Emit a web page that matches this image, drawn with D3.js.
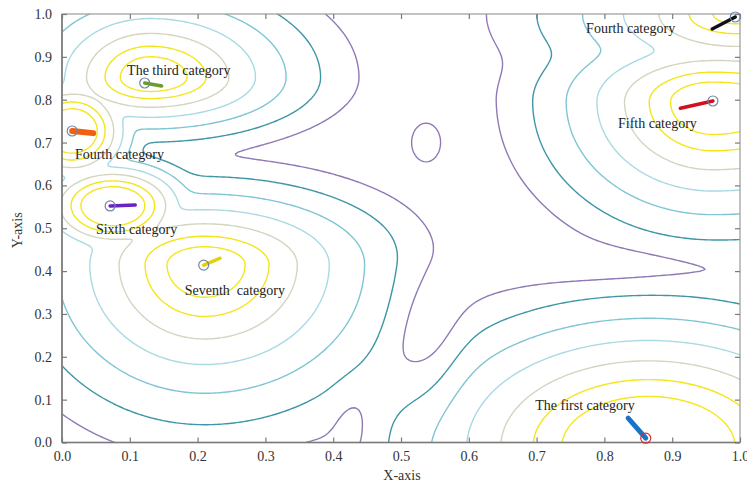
<!DOCTYPE html>
<html><head><meta charset="utf-8">
<script src="https://cdn.jsdelivr.net/npm/d3@7"></script>
<style>body{margin:0;background:#fff} svg{display:block;font-family:"Liberation Serif","DejaVu Serif",serif}</style>
</head><body><svg id="chart" width="747" height="485"></svg>
<script>
// ---- data ----
const categories = ["The first category","Fifth category","Fourth category","The third category","Fourth category","Sixth category","Seventh  category"];
const centerX     = [0.865, 0.96, 0.995, 0.13, 0.015, 0.075, 0.21];
const centerY     = [-0.01, 0.795, 1.0, 0.852, 0.727, 0.553, 0.415];
const amplitude   = [204, 92, 41.5, 130, 245, 245, 73];
const spreadLeft  = [0.0278, 0.0258, 0.0412, 0.0105, 0.00716, 0.0091, 0.029];
const spreadRight = [0.0278, 0.04, 0.0412, 0.013, 0.00716, 0.0091, 0.0316];
const spreadDown  = [0.0256, 0.0314, 0.027, 0.0078, 0.01, 0.0091, 0.04];
const spreadUp    = [0.0256, 0.019, 0.027, 0.0115, 0.01, 0.0085, 0.022];
const shapeExp    = [0.6, 0.6, 0.6, 0.5, 0.6, 0.6, 0.6];
// small local bump in the central valley
const bumpX = [0.537], bumpY = [0.70], bumpAmp = [1.4], bumpSX = [0.026], bumpSY = [0.055];
// narrow valley channels between the clusters
const dipX = [0.538, 0.80, 0.43], dipY = [0.255, 0.41, 0.035];
const dipDepth = [0.45, 0.25, 0.25], dipSX = [0.035, 0.1, 0.02], dipSY = [0.12, 0.03, 0.06];
const levels = [1, 1.6, 2.56, 4.1, 6.55, 10.5, 16.8];
const levelColors = ["#9079b6", "#3e97a6", "#7fc5d3", "#a9dae3", "#d3d5bf", "#f3e51c", "#f5e61e"];
// markers: centre point and trajectory end
const markX = [0.861, 0.96, 0.993, 0.122, 0.015, 0.071, 0.209];
const markY = [0.010, 0.797, 0.993, 0.839, 0.727, 0.552, 0.414];
const trailX = [0.835, 0.912, 0.959, 0.147, 0.046, 0.108, 0.233];
const trailY = [0.057, 0.780, 0.965, 0.832, 0.722, 0.554, 0.430];
const trailColors = ["#1a73c6", "#d0101a", "#111111", "#6d9a2c", "#f0600f", "#6a22c0", "#e6d000"];
const markColors = ["#d03030", "#6f86aa", "#6f86aa", "#6f86aa", "#6f86aa", "#6f86aa", "#6f86aa"];
const labelX = [0.698, 0.82, 0.773, 0.096, 0.019, 0.05, 0.181];
const labelY = [0.076, 0.734, 0.956, 0.857, 0.661, 0.487, 0.344];
const xTicks = [0,0.1,0.2,0.3,0.4,0.5,0.6,0.7,0.8,0.9,1.0];
const yTicks = [0,0.1,0.2,0.3,0.4,0.5,0.6,0.7,0.8,0.9,1.0];

// ---- layout ----
const svg = d3.select("#chart");
const L = 62, R = 740, T = 14, B = 442.5;
const x = d3.scaleLinear().domain([0,1]).range([L,R]);
const y = d3.scaleLinear().domain([0,1]).range([B,T]);

// ---- field (soft maximum of the category peaks, minus valley channels) ----
const K = 6;
function field(px, py){
  let s = 0;
  for (let i=0;i<centerX.length;i++){
    const ddx = px-centerX[i], ddy = py-centerY[i];
    const dx = ddx/(ddx<0?spreadLeft[i]:spreadRight[i]);
    const dy = ddy/(ddy<0?spreadDown[i]:spreadUp[i]);
    const r = Math.sqrt(dx*dx+dy*dy);
    const g = Math.log(amplitude[i]) - Math.pow(r, shapeExp[i]);
    s += Math.exp(K*g);
  }
  for (let i=0;i<bumpX.length;i++){
    const dx=(px-bumpX[i])/bumpSX[i], dy=(py-bumpY[i])/bumpSY[i];
    const g = Math.log(bumpAmp[i]) - (dx*dx+dy*dy)/2;
    s += Math.exp(K*g);
  }
  let G = Math.log(s)/K;
  for (let i=0;i<dipX.length;i++){
    const dx=(px-dipX[i])/dipSX[i], dy=(py-dipY[i])/dipSY[i];
    G -= dipDepth[i]*Math.exp(-(dx*dx+dy*dy)/2);
  }
  return Math.exp(G);
}
const n=300, m=260, x0=-0.03, x1=1.03, y0=-0.03, y1=1.03;
const sx=(x1-x0)/(n-1), sy=(y1-y0)/(m-1);
const vals = new Float64Array(n*m);
for (let j=0;j<m;j++) for (let i=0;i<n;i++) vals[j*n+i]=field(x0+i*sx, y0+j*sy);
const contours = d3.contours().size([n,m]).thresholds(levels)(vals);
const proj = d3.geoTransform({point:function(cx,cy){
  this.stream.point(x(x0+(cx-0.5)*sx), y(y0+(cy-0.5)*sy));
}});
const path = d3.geoPath(proj);

svg.append("defs").append("clipPath").attr("id","clip")
  .append("rect").attr("x",L).attr("y",T).attr("width",R-L).attr("height",B-T);

svg.append("g").attr("clip-path","url(#clip)")
  .selectAll("path").data(contours).join("path")
  .attr("d", path).attr("fill","none")
  .attr("stroke",(d,i)=>levelColors[i]).attr("stroke-width",1.4);

// ---- axes ----
const ax = svg.append("g");
const frameColor = "#7a7a7a";
ax.append("rect").attr("x",L).attr("y",T).attr("width",R-L).attr("height",B-T)
  .attr("fill","none").attr("stroke","#9a9a9a").attr("stroke-width",1.2);
ax.append("line").attr("x1",L).attr("x2",L).attr("y1",T).attr("y2",B).attr("stroke",frameColor).attr("stroke-width",1.6);
ax.append("line").attr("x1",L).attr("x2",R).attr("y1",B).attr("y2",B).attr("stroke",frameColor).attr("stroke-width",1.6);

const gx = svg.append("g").attr("transform",`translate(0,${B})`)
  .call(d3.axisBottom(x).tickValues(xTicks).tickFormat(d3.format(".1f")).tickSizeInner(-5).tickSizeOuter(0).tickPadding(9));
const gxt = svg.append("g").attr("transform",`translate(0,${T})`)
  .call(d3.axisTop(x).tickValues(xTicks).tickFormat("").tickSizeInner(-5).tickSizeOuter(0));
const gy = svg.append("g").attr("transform",`translate(${L},0)`)
  .call(d3.axisLeft(y).tickValues(yTicks).tickFormat(d3.format(".1f")).tickSizeInner(-5).tickSizeOuter(0).tickPadding(10));
const gyr = svg.append("g").attr("transform",`translate(${R},0)`)
  .call(d3.axisRight(y).tickValues(yTicks).tickFormat("").tickSizeInner(-5).tickSizeOuter(0));
[gx,gxt,gy,gyr].forEach(g=>{
  g.select(".domain").remove();
  g.selectAll(".tick line").attr("stroke",frameColor).attr("stroke-width",1.2);
  g.selectAll("text").attr("font-family","Liberation Serif").attr("font-size",14).attr("fill","#333");
});

svg.append("text").attr("x",402).attr("y",480).attr("text-anchor","middle")
  .attr("font-size",14).attr("fill","#333").text("X-axis");
svg.append("text").attr("transform",`translate(22,${(T+B)/2+2}) rotate(-90)`).attr("text-anchor","middle")
  .attr("font-size",14).attr("fill","#333").text("Y-axis");

// ---- markers ----
const mk = svg.append("g");
categories.forEach((c,i)=>{
  mk.append("line").attr("x1",x(markX[i])).attr("y1",y(markY[i]))
    .attr("x2",x(trailX[i])).attr("y2",y(trailY[i]))
    .attr("stroke",trailColors[i]).attr("stroke-width",i===0?5:(i===4?6:3.5)).attr("stroke-linecap","round");
  mk.append("circle").attr("cx",x(markX[i])).attr("cy",y(markY[i])).attr("r",5)
    .attr("fill","none").attr("stroke",markColors[i]).attr("stroke-width",1.2);
  svg.append("text").attr("x",x(labelX[i])).attr("y",y(labelY[i]))
    .attr("font-size",14).attr("fill","#222").style("white-space","pre").text(c);
});
</script></body></html>
